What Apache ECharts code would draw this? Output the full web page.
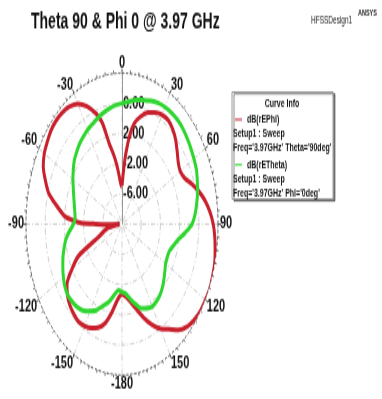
<!DOCTYPE html>
<html>
<head>
<meta charset="utf-8">
<script src="https://cdn.jsdelivr.net/npm/echarts@6/dist/echarts.min.js"></script>
<style>
  html, body { margin: 0; padding: 0; background: #fff; overflow: hidden; }
  #wrap { width: 382px; height: 399px; overflow: hidden; position: relative; }
  #main { width: 382px; height: 254px; transform-origin: 0 0; position: absolute; left: 0; top: 0; }
</style>
</head>
<body>
<div id="wrap"><div id="main"></div></div>
<script>
// ---- data (angles in degrees, clockwise from top; values in dB) ----
var titleText = 'Theta 90 & Phi 0 @ 3.97 GHz';
var seriesNames = ['dB(rEPhi)', 'dB(rETheta)'];
var angleTicks = [0, 30, 60, 90, 120, 150, 180, 210, 240, 270, 300, 330];
var radiusTickLabels = ['-6.00', '-2.00', '2.00', '6.00'];
var dbMin = -10, dbMax = 10, dbStep = 4;

var redAngles = [0, 3, 5, 8, 11, 15, 20, 25, 30, 35, 40, 45, 50, 55, 60, 65, 70, 75, 80, 85, 90, 95, 100, 105, 110, 115, 120, 125, 130, 135, 140, 145, 150, 155, 160, 165, 170, 175, 180, 185, 190, 195, 200, 205, 210, 215, 220, 225, 230, 235, 240, 245, 250, 255, 260, 264, 268, 269, 270, 271, 273, 275, 280, 285, 290, 295, 300, 305, 310, 315, 320, 325, 330, 335, 340, 343, 346, 350, 353, 356, 359, 360];
var redDb = [-4.9, -2.5, -0.5, 2.0, 3.6, 4.7, 5.7, 6.3, 6.7, 6.8, 6.4, 5.8, 5.0, 4.3, 4.0, 4.4, 5.5, 6.6, 7.6, 8.4, 9.0, 9.4, 9.7, 10.0, 10.1, 10.2, 10.1, 10.0, 9.7, 9.2, 8.3, 7.0, 6.0, 4.7, 3.2, 1.7, 0.5, -0.3, -0.7, 0.0, 1.8, 3.6, 4.6, 5.2, 5.6, 5.8, 5.6, 5.3, 4.8, 4.0, 2.1, 0.0, -4.5, -6.0, -7.0, -8.5, -9.5, -7.0, -4.5, -1.5, 0.5, 2.0, 3.8, 5.8, 7.0, 8.1, 8.7, 9.0, 9.3, 9.4, 9.3, 9.0, 8.4, 7.2, 5.5, 4.0, 1.0, -1.0, -2.6, -4.2, -5.0, -4.9];

var greenAngles = [0, 5, 10, 15, 20, 25, 30, 35, 40, 45, 50, 55, 60, 65, 70, 75, 80, 85, 90, 95, 100, 105, 110, 115, 120, 125, 130, 135, 140, 145, 150, 155, 160, 165, 170, 175, 180, 185, 190, 195, 200, 205, 210, 215, 220, 225, 230, 235, 240, 245, 250, 255, 260, 265, 270, 275, 280, 285, 290, 295, 300, 305, 310, 315, 320, 325, 330, 335, 340, 345, 350, 355, 360];
var greenDb = [6.0, 6.3, 6.7, 7.0, 7.4, 7.7, 7.9, 8.0, 8.0, 7.9, 7.7, 7.5, 7.3, 7.1, 6.7, 6.3, 5.8, 5.3, 4.6, 3.2, 1.9, 1.1, 0.5, 0.4, 0.5, 0.9, 1.4, 1.9, 2.3, 2.5, 2.6, 2.3, 1.9, 1.0, 0.1, -0.7, -1.0, -1.2, -0.4, 0.7, 1.5, 2.6, 3.3, 4.0, 4.4, 4.6, 4.7, 4.5, 4.1, 3.6, 3.1, 2.5, 1.9, 1.0, 0.1, -0.2, 0.0, 0.3, 0.7, 1.2, 1.8, 2.4, 3.0, 3.4, 3.8, 4.1, 4.4, 4.6, 4.9, 5.2, 5.5, 5.8, 6.0];

var legendLines = [
  ['Setup1 : Sweep', "Freq='3.97GHz' Theta='90deg'"],
  ['Setup1 : Sweep', "Freq='3.97GHz' Phi='0deg'"]
];

// ---- layout (page is stretched vertically by S like the reference) ----
var S = 151 / 96;
var mainEl = document.getElementById('main');
mainEl.style.transform = 'scaleY(' + S + ')';
function Y(v) { return v / S; }   // reference pixel y -> chart y

function toPairs(angles, dbs) {
  return angles.map(function (a, i) { return [dbs[i] - dbMin, a]; });
}

var FONT = '"Liberation Sans", Arial, sans-serif';
var chart = echarts.init(mainEl, null, { renderer: 'canvas' });

var option = {
  animation: false,
  backgroundColor: '#fff',
  title: {
    text: titleText,
    left: 31, top: Y(22) - 8,
    padding: 0,
    textStyle: { fontFamily: FONT, fontSize: 14, fontWeight: 'bold', color: '#111', lineHeight: 16 }
  },
  legend: {
    orient: 'vertical',
    left: 235, top: Y(119.5) - 4.5,
    padding: 0,
    itemGap: Y(164.8) - Y(119.5) - 9,
    itemWidth: 7, itemHeight: 1,
    icon: 'rect',
    selectedMode: false,
    data: seriesNames,
    textStyle: { fontFamily: FONT, fontSize: 7, fontWeight: 'bold', color: '#111', lineHeight: 9 }
  },
  polar: { center: [122, Y(224)], radius: 96 },
  angleAxis: {
    type: 'value',
    min: 0, max: 360, interval: 30,
    startAngle: 90, clockwise: true,
    axisLine: { show: true, lineStyle: { color: '#555', width: 1, type: [2, 2] } },
    axisTick: { show: true, length: 3, lineStyle: { color: '#555' } },
    minorTick: { show: true, splitNumber: 6, length: 2, lineStyle: { color: '#777' } },
    axisLabel: {
      margin: 2,
      fontFamily: FONT, fontSize: 11, fontWeight: 'bold', color: '#111', lineHeight: 8,
      formatter: function (v) {
        if (v === 180) return '-180';
        if (v > 180) return String(v - 360);
        return String(v);
      }
    },
    splitLine: { show: true, lineStyle: { color: '#cfcfcf', width: 1, type: [4, 2, 1, 2] } }
  },
  radiusAxis: {
    type: 'value',
    min: 0, max: dbMax - dbMin, interval: dbStep,
    axisLine: { show: true, lineStyle: { color: '#999', width: 1 } },
    axisTick: { show: false },
    axisLabel: {
      margin: -1,
      align: 'left',
      verticalAlign: 'middle',
      padding: [0, 0, 9, 0],
      fontFamily: FONT, fontSize: 11, fontWeight: 'bold', color: '#111',
      formatter: function (v) {
        var d = v + dbMin;
        var s = d.toFixed(2);
        return radiusTickLabels.indexOf(s) >= 0 ? s : '';
      }
    },
    splitLine: { show: true, lineStyle: { color: '#cfcfcf', width: 1, type: [4, 2, 1, 2] } }
  },
  graphic: [
    { type: 'rect', shape: { x: 232, y: Y(92), width: 101, height: Y(199) - Y(92) },
      style: { fill: '#fff', stroke: '#9a9a9a', lineWidth: 1,
               shadowColor: 'rgba(0,0,0,0.45)', shadowOffsetX: 2, shadowOffsetY: 1.2, shadowBlur: 0 }, z: 0 },
    { type: 'text', x: 282, y: Y(103.5), z: 10,
      style: { text: 'Curve Info', fontFamily: FONT, fontSize: 7, fontWeight: 'bold', fill: '#111', align: 'center', verticalAlign: 'middle' } },
    { type: 'text', x: 233, y: Y(133.7), z: 10,
      style: { text: legendLines[0][0], fontFamily: FONT, fontSize: 7, fontWeight: 'bold', fill: '#111', verticalAlign: 'middle' } },
    { type: 'text', x: 233, y: Y(148), z: 10,
      style: { text: legendLines[0][1], fontFamily: FONT, fontSize: 7, fontWeight: 'bold', fill: '#111', verticalAlign: 'middle' } },
    { type: 'text', x: 233, y: Y(179), z: 10,
      style: { text: legendLines[1][0], fontFamily: FONT, fontSize: 7, fontWeight: 'bold', fill: '#111', verticalAlign: 'middle' } },
    { type: 'text', x: 233, y: Y(194), z: 10,
      style: { text: legendLines[1][1], fontFamily: FONT, fontSize: 7, fontWeight: 'bold', fill: '#111', verticalAlign: 'middle' } },
    { type: 'text', x: 311, y: Y(21), z: 10,
      style: { text: 'HFSSDesign1', fontFamily: FONT, fontSize: 6.5, fill: '#222', verticalAlign: 'middle' } },
    { type: 'text', x: 358, y: Y(14), z: 10,
      style: { text: 'ANSYS', fontFamily: FONT, fontSize: 5.5, fontWeight: 'bold', fill: '#222', verticalAlign: 'middle' } }
  ],
  series: [
    { name: seriesNames[0], type: 'line', coordinateSystem: 'polar',
      data: toPairs(redAngles, redDb), showSymbol: false, smooth: 0.25,
      lineStyle: { color: '#c8202c', width: 3 }, itemStyle: { color: '#c8202c' }, z: 3 },
    { name: seriesNames[1], type: 'line', coordinateSystem: 'polar',
      data: toPairs(greenAngles, greenDb), showSymbol: false, smooth: 0.25,
      lineStyle: { color: '#2fd62f', width: 3 }, itemStyle: { color: '#2fd62f' }, z: 3 }
  ]
};
chart.setOption(option);
</script>
</body>
</html>
